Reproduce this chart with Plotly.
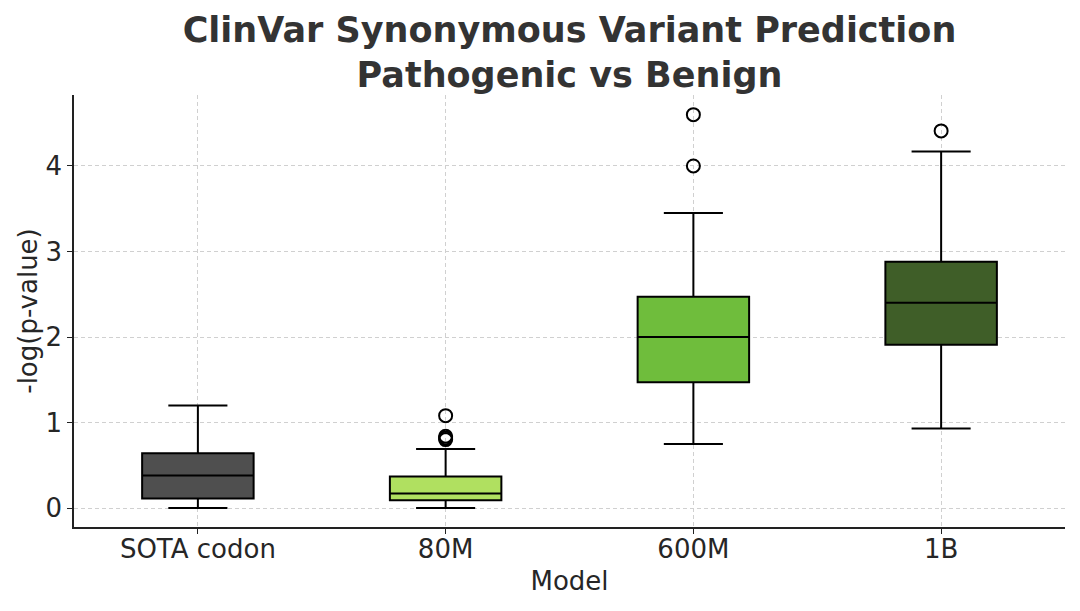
import plotly.graph_objects as go

models = ["SOTA codon", "80M", "600M", "1B"]
positions = [0, 1, 2, 3]
lower_whisker = [0.0, 0.0, 0.75, 0.93]
q1 = [0.11, 0.09, 1.47, 1.91]
median = [0.38, 0.17, 2.00, 2.40]
q3 = [0.64, 0.37, 2.47, 2.88]
upper_whisker = [1.20, 0.69, 3.45, 4.17]
colors = ["#4f4f4f", "#b0e060", "#6fbd3c", "#3f5e28"]

outlier_pos = [1, 1, 1, 1, 2, 2, 3]
outlier_val = [1.08, 0.84, 0.82, 0.80, 4.00, 4.60, 4.41]

fig = go.Figure()
for i, m in enumerate(models):
    fig.add_trace(go.Box(
        x=[positions[i]], q1=[q1[i]], median=[median[i]], q3=[q3[i]],
        lowerfence=[lower_whisker[i]], upperfence=[upper_whisker[i]],
        name=m, fillcolor=colors[i], line=dict(color="black", width=2),
        width=0.45, whiskerwidth=0.53, boxpoints=False, showlegend=False,
    ))

fig.add_trace(go.Scatter(
    x=outlier_pos, y=outlier_val, mode="markers",
    marker=dict(symbol="circle-open", size=13, color="black", line=dict(width=2)),
    showlegend=False, hoverinfo="y",
))

font = "DejaVu Sans"
grid = "#d0d0d0"
fig.update_layout(
    width=1080, height=611,
    margin=dict(l=66, r=23, t=87, b=92),
    plot_bgcolor="white", paper_bgcolor="white",
    font=dict(family=font, size=26, color="#262626"),
    title=dict(
        text="<b>ClinVar Synonymous Variant Prediction<br>Pathogenic vs Benign</b>",
        xref="paper", x=0.5, xanchor="center",
        yref="container", y=0.945, yanchor="middle",
        font=dict(family=font, size=35, color="#333333"),
    ),
)
fig.update_xaxes(
    range=[-0.5, 3.5], tickvals=positions, ticktext=models,
    showline=True, linecolor="#222222", linewidth=1.5,
    ticks="outside", ticklen=5, tickcolor="#222222",
    showgrid=True, gridcolor=grid, griddash="4px,3px", gridwidth=1,
    zeroline=False, automargin=True, ticklabelstandoff=-7,
    title=dict(text="Model", font=dict(size=26), standoff=9),
    tickfont=dict(size=26),
)
fig.update_yaxes(
    range=[-0.222, 4.83], tickvals=[0, 1, 2, 3, 4],
    showline=True, linecolor="#222222", linewidth=1.5,
    ticks="outside", ticklen=5, tickcolor="#222222",
    showgrid=True, gridcolor=grid, griddash="4px,3px", gridwidth=1,
    zeroline=False, automargin=True,
    title=dict(text="-log(p-value)", font=dict(size=26), standoff=0),
    tickfont=dict(size=26),
)

fig.write_html("out.html")
